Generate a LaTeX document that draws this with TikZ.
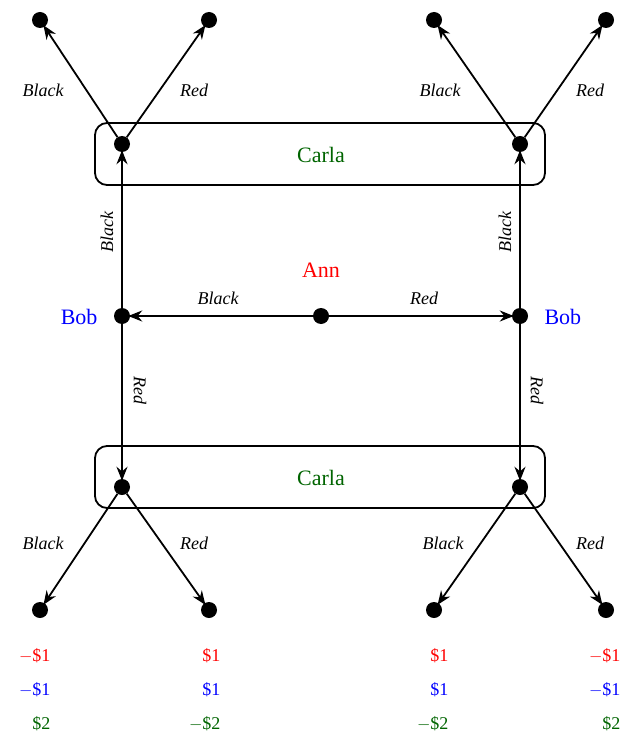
\documentclass[tikz,border=0pt]{standalone}
\usepackage{fontspec}
\setmainfont{Liberation Serif}
\usetikzlibrary{arrows.meta}
\definecolor{dg}{RGB}{0,100,0}
\begin{document}
\begin{tikzpicture}[x=1pt,y=-1pt,
  dot/.style={circle,fill=black,inner sep=0pt,minimum size=16pt},
  arr/.style={line width=1.8pt,-{Stealth[length=14pt,width=11pt]},shorten >=-2pt},
  lab/.style={font=\fontsize{18}{20}\selectfont\itshape},
  big/.style={font=\fontsize{22}{24}\selectfont},
  pay/.style={font=\fontsize{18}{20}\selectfont,anchor=east}]
\useasboundingbox (0,0) rectangle (634,746);
\draw[line width=1.8pt,rounded corners=12pt] (95,123) rectangle (545,185);
\draw[line width=1.8pt,rounded corners=12pt] (95,446) rectangle (545,508);
\node[dot] (ann) at (321,316) {};
\node[dot] (bl) at (122,316) {};
\node[dot] (br) at (520,316) {};
\node[dot] (ctl) at (122,144) {};
\node[dot] (ctr) at (520,144) {};
\node[dot] (cbl) at (122,487) {};
\node[dot] (cbr) at (520,487) {};
\foreach \n/\x in {a/40,b/209,c/434,d/606}{
  \node[dot] (t\n) at (\x,20) {};
  \node[dot] (b\n) at (\x,610) {};}
\node[big,red] (annl) at (321,270) {Ann};
\node[big,blue,anchor=east] (bobl) at (101,317) {Bob};
\node[big,blue,anchor=west] (bobr) at (541,317) {Bob};
\node[big,dg] (c1) at (321,155) {Carla};
\node[big,dg] (c2) at (321,478) {Carla};
\draw[arr] (ann) -- (bl);
\draw[arr] (ann) -- (br);
\draw[arr] (bl) -- (ctl);
\draw[arr] (bl) -- (cbl);
\draw[arr] (br) -- (ctr);
\draw[arr] (br) -- (cbr);
\draw[arr] (ctl) -- (ta);
\draw[arr] (ctl) -- (tb);
\draw[arr] (ctr) -- (tc);
\draw[arr] (ctr) -- (td);
\draw[arr] (cbl) -- (ba);
\draw[arr] (cbl) -- (bb);
\draw[arr] (cbr) -- (bc);
\draw[arr] (cbr) -- (bd);
\node[lab] (l1) at (218,298) {Black};
\node[lab] (l2) at (424,298) {Red};
\node[lab,rotate=90] (l3) at (107,232) {Black};
\node[lab,rotate=90] (l4) at (505,232) {Black};
\node[lab,rotate=-90] (l5) at (140,390) {Red};
\node[lab,rotate=-90] (l6) at (537,390) {Red};
\node[lab] (l7) at (43,90) {Black};
\node[lab] (l8) at (194,90) {Red};
\node[lab] (l9) at (440,90) {Black};
\node[lab] (l10) at (590,90) {Red};
\node[lab] (l11) at (43,543) {Black};
\node[lab] (l12) at (194,543) {Red};
\node[lab] (l13) at (443,543) {Black};
\node[lab] (l14) at (590,543) {Red};
\foreach \x/\a/\b/\c [count=\i] in {54/$-$\$1/$-$\$1/\$2, 224/\$1/\$1/$-$\$2, 452/\$1/\$1/$-$\$2, 624/$-$\$1/$-$\$1/\$2}{
  \node[pay,red] (p\i a) at (\x,656) {\a};
  \node[pay,blue] (p\i b) at (\x,690) {\b};
  \node[pay,dg] (p\i c) at (\x,724) {\c};}
\end{tikzpicture}
\end{document}
